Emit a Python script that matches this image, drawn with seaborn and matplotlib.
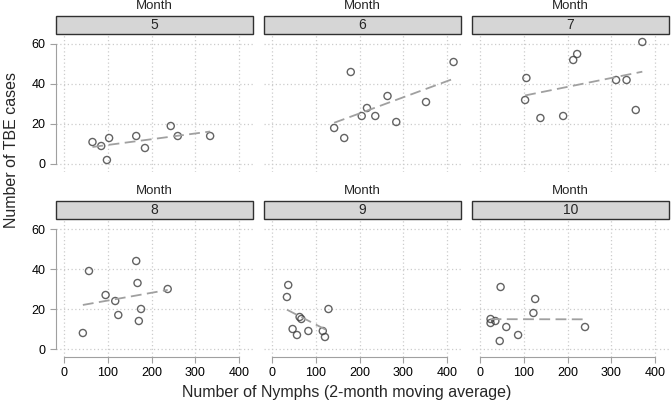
import matplotlib
matplotlib.use("Agg")
import matplotlib.pyplot as plt
import seaborn as sns
import pandas as pd
import numpy as np
from matplotlib.patches import Rectangle

# values
months = [5, 6, 7, 8, 9, 10]
nymphs_5 = [65, 85, 98, 103, 165, 185, 244, 260, 334]
cases_5 = [11, 9, 2, 13, 14, 8, 19, 14, 14]
nymphs_6 = [142, 165, 180, 205, 217, 236, 264, 284, 352, 415]
cases_6 = [18, 13, 46, 24, 28, 24, 34, 21, 31, 51]
nymphs_7 = [103, 106, 138, 190, 213, 222, 311, 335, 356, 371]
cases_7 = [32, 43, 23, 24, 52, 55, 42, 42, 27, 61]
nymphs_8 = [43, 57, 95, 117, 124, 165, 168, 171, 176, 237]
cases_8 = [8, 39, 27, 24, 17, 44, 33, 14, 20, 30]
nymphs_9 = [37, 34, 63, 67, 47, 57, 83, 116, 121, 129]
cases_9 = [32, 26, 16, 15, 10, 7, 9, 9, 6, 20]
nymphs_10 = [47, 126, 122, 24, 24, 35, 60, 87, 45, 240]
cases_10 = [31, 25, 18, 15, 13, 14, 11, 7, 4, 11]

x_ticks = [0, 100, 200, 300, 400]
y_ticks = [0, 20, 40, 60]

all_x = [nymphs_5, nymphs_6, nymphs_7, nymphs_8, nymphs_9, nymphs_10]
all_y = [cases_5, cases_6, cases_7, cases_8, cases_9, cases_10]
df = pd.concat([pd.DataFrame({"Month": m, "nymphs": xs, "cases": ys})
                for m, xs, ys in zip(months, all_x, all_y)], ignore_index=True)

sns.set_style("white")
plt.rcParams["font.family"] = ["Liberation Sans", "DejaVu Sans"]

W, H = 671, 407
g = sns.FacetGrid(df, col="Month", col_wrap=3, sharex=False, sharey=False)
g.map_dataframe(sns.regplot, x="nymphs", y="cases", ci=None, truncate=True,
                scatter_kws=dict(s=26, facecolors="none", edgecolors="#3c3c3c", linewidths=1.0),
                line_kws=dict(color="#a0a0a0", lw=1.3, dashes=(6, 3)))
fig = g.figure
fig.set_size_inches(W / 100, H / 100)

col_x = [56, 264, 472]
row_y = [34, 219]
pw, ph = 197, 138
strip_h = 18

for i, ax in enumerate(g.axes.flat):
    r, c = divmod(i, 3)
    ax.set_position([col_x[c] / W, 1 - (row_y[r] + ph) / H, pw / W, ph / H])
    ax.set_xlim(-18.4, 432)
    ax.set_ylim(-4, 65)
    ax.set_title("")
    ax.set_xlabel("")
    ax.set_ylabel("")
    ax.set_xticks(x_ticks)
    ax.set_yticks(y_ticks)
    ax.grid(True, color="#cccccc", linestyle=(0, (1, 2)), lw=0.9)
    ax.set_axisbelow(True)
    for s in ["top", "right"]:
        ax.spines[s].set_visible(False)
    ax.spines["left"].set_bounds(0, 60)
    ax.spines["bottom"].set_bounds(0, 400)
    ax.spines["left"].set_color("#a0a0a0")
    ax.spines["bottom"].set_color("#a0a0a0")
    ax.tick_params(axis="both", colors="#a0a0a0", labelcolor="black", length=4, width=0.8,
                   labelsize=9, direction="out", left=(c == 0), bottom=(r == 1),
                   labelleft=(c == 0), labelbottom=(r == 1))
    if c != 0:
        ax.spines["left"].set_visible(False)
    if r != 1:
        ax.spines["bottom"].set_visible(False)
    # strip header
    ax.add_patch(Rectangle((0, 1), 1, strip_h / ph, transform=ax.transAxes,
                           facecolor="#d6d6d6", edgecolor="#303030", lw=1.0, clip_on=False))
    ax.text(0.5, 1 + strip_h / ph / 2, str(months[i]), transform=ax.transAxes,
            ha="center", va="center", fontsize=10)
    ax.text(0.5, 1 + 28 / ph, "Month", transform=ax.transAxes,
            ha="center", va="center", fontsize=9.5)

fig.text(12 / W, 1 - 150 / H, "Number of TBE cases", rotation=90,
         ha="center", va="center", fontsize=11.5)
fig.text(347 / W, 1 - 392 / H, "Number of Nymphs (2-month moving average)",
         ha="center", va="center", fontsize=11.5)

fig.savefig("out.png", dpi=100, facecolor="white")
